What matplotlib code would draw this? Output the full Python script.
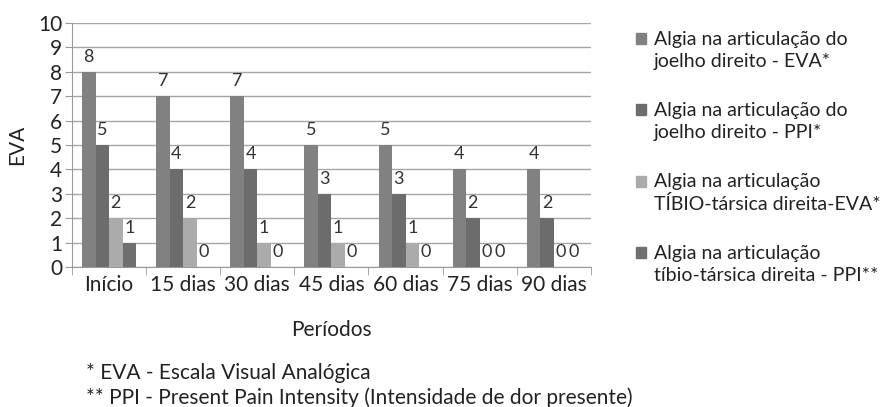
import matplotlib.pyplot as plt
import numpy as np
from matplotlib.patches import Patch, Rectangle
from matplotlib.legend_handler import HandlerPatch

periodos = ["Início", "15 dias", "30 dias", "45 dias", "60 dias", "75 dias", "90 dias"]
joelho_eva = [8, 7, 7, 5, 5, 4, 4]
joelho_ppi = [5, 4, 4, 3, 3, 2, 2]
tibio_eva = [2, 2, 1, 1, 1, 0, 0]
tibio_ppi = [1, 0, 0, 0, 0, 0, 0]

series = [joelho_eva, joelho_ppi, tibio_eva, tibio_ppi]
nomes = [
    "Algia na articulação do\njoelho direito - EVA*",
    "Algia na articulação do\njoelho direito - PPI*",
    "Algia na articulação\nTÍBIO-társica direita-EVA*",
    "Algia na articulação\ntíbio-társica direita - PPI**",
]
cores = ["#818181", "#6c6c6c", "#ababab", "#6f6f6f"]

plt.rcParams['font.family'] = ['Lato', 'DejaVu Sans']
txt = "#222222"
fs = 15

fig = plt.figure(figsize=(8.93, 4.07), dpi=100)
ax = fig.add_axes([0.0806, 0.344, 0.581, 0.5995])

x = np.arange(len(periodos))
w = 0.182
for i, (vals, cor) in enumerate(zip(series, cores)):
    bars = ax.bar(x + (i - 1.5) * w, vals, w, color=cor, zorder=3)
    ax.bar_label(bars, padding=5, fontsize=13, color="#333333")

ax.set_xlim(-0.5, len(periodos) - 0.5)
ax.set_ylim(0, 10)
ax.set_yticks(range(0, 11))
ax.tick_params(axis='y', labelsize=fs, length=5, color="#999999", labelcolor=txt, pad=2)
ax.set_xticks(x)
ax.set_xticklabels(periodos)
ax.tick_params(axis='x', labelsize=fs, length=0, labelcolor=txt, pad=6)
ax.set_xticks(np.arange(-0.5, len(periodos)), minor=True)
ax.tick_params(axis='x', which='minor', length=6, color="#999999")
ax.grid(axis='y', color="#a6a6a6", linewidth=1, zorder=0)
for s in ['top', 'right']:
    ax.spines[s].set_visible(False)
for s in ['left', 'bottom']:
    ax.spines[s].set_color("#999999")

ax.set_ylabel("EVA", fontsize=fs, color=txt, labelpad=8)
ax.set_xlabel("Períodos", fontsize=fs, color=txt, labelpad=18)


# legend squares sit on the first line of each two-line label
def quadrado(legend, orig_handle, xdescent, ydescent, width, height, fontsize):
    return Rectangle((-xdescent, -ydescent + 8.5), width, height)


handles = [Patch(color=c) for c in cores]
leg = fig.legend(handles, nomes, loc='upper left', bbox_to_anchor=(0.693, 0.967),
                 frameon=False, fontsize=14, handlelength=0.5, handleheight=0.5,
                 handletextpad=0.4, labelspacing=1.62, labelcolor=txt,
                 handler_map={Patch: HandlerPatch(patch_func=quadrado)})
for t in leg.get_texts():
    t.set_linespacing(1.38)

fig.text(0.0963, 0.070, "* EVA - Escala Visual Analógica", fontsize=fs, color=txt)
fig.text(0.0963, 0.008, "** PPI - Present Pain Intensity (Intensidade de dor presente)",
         fontsize=fs, color=txt)

fig.savefig("out.png", dpi=100)
